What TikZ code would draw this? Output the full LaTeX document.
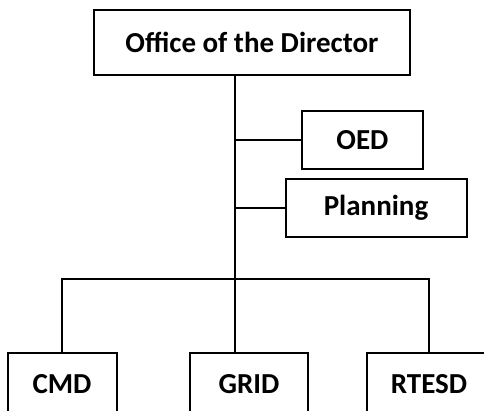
\documentclass[tikz,border=0pt]{standalone}
\usepackage{fontspec}
\setmainfont{Carlito}
\usetikzlibrary{positioning}

\begin{document}
\begin{tikzpicture}
	[x=1pt,y=-1pt,
	unit/.style={draw=black, line width=2pt, fill=white, font=\fontsize{29}{32}\selectfont\bfseries, inner sep=0pt, minimum height=58pt},
	link/.style={draw=black, line width=1.8pt}]

\useasboundingbox (0,0) rectangle (484,411);
\clip (0,0) rectangle (484,411);
\node [unit, minimum width=316pt, minimum height=65pt] (director) at (252,42.5) {Office of the Director};
\node [unit, minimum width=121pt] (oed) at (362.5,140) {OED};
\node [unit, minimum width=181pt] (planning) at (376,208) {Planning};
\coordinate (bus) at (235.3,279);
\node [unit, minimum width=109pt, minimum height=62pt] (cmd) at (62,384) {CMD};
\node [unit, minimum width=118pt, minimum height=62pt] (grid) at (249,384) {GRID};
\node [unit, minimum width=124pt, minimum height=62pt] (rtesd) at (429,384) {RTESD};

\draw [link] (director.south -| bus) -- (grid.north -| bus);
\draw [link] (oed.west -| bus) -- (oed.west);
\draw [link] (planning.west -| bus) -- (planning.west);
\draw [link] (cmd.north) |- (bus) -| (rtesd.north);

\end{tikzpicture}
\end{document}
